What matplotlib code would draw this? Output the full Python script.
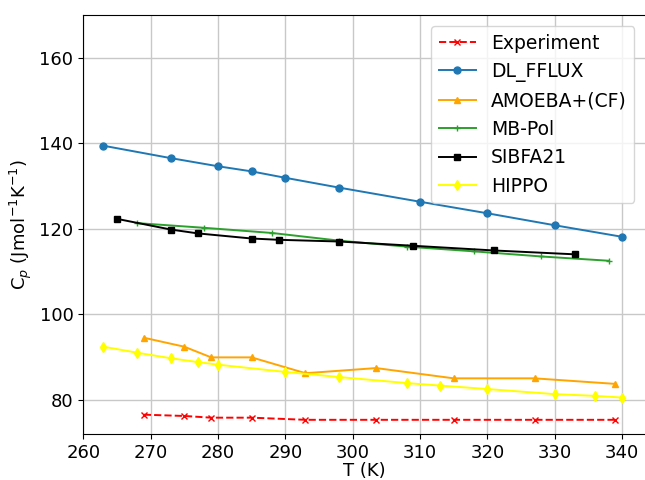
import matplotlib
matplotlib.use("Agg")
import matplotlib.pyplot as plt

T_exp = [269, 275, 279, 285, 293, 303.5, 315, 327, 339]
cp_exp = [76.5, 76.2, 75.8, 75.8, 75.3, 75.3, 75.3, 75.3, 75.3]

T_dl = [263, 273, 280, 285, 290, 298, 310, 320, 330, 340]
cp_dl = [139.4, 136.5, 134.6, 133.4, 131.9, 129.6, 126.3, 123.6, 120.8, 118.1]

T_am = [269, 275, 279, 285, 293, 303.5, 315, 327, 339]
cp_am = [94.5, 92.4, 89.9, 89.9, 86.2, 87.4, 85.0, 85.0, 83.7]

T_mb = [268, 278, 288, 298, 308, 318, 328, 338]
cp_mb = [121.3, 120.2, 119.0, 117.2, 115.8, 114.7, 113.5, 112.5]

T_sb = [265, 273, 277, 285, 289, 298, 309, 321, 333]
cp_sb = [122.3, 119.8, 118.9, 117.7, 117.4, 117.0, 116.0, 114.9, 114.0]

T_hp = [263, 268, 273, 277, 280, 290, 298, 308, 313, 320, 330, 336, 340]
cp_hp = [92.4, 91.0, 89.7, 88.8, 88.2, 86.5, 85.3, 83.9, 83.3, 82.5, 81.3, 80.9, 80.5]

plt.rcParams['font.size'] = 13
fig = plt.figure(figsize=(6.45, 4.8), dpi=100)
ax = fig.add_axes([0.129, 0.096, 0.872, 0.873])

ax.plot(T_exp, cp_exp, '--x', color='red', ms=5, lw=1.4, label='Experiment')
ax.plot(T_dl, cp_dl, '-o', color='tab:blue', ms=5, lw=1.4, label='DL_FFLUX')
ax.plot(T_am, cp_am, '-^', color='orange', ms=5, lw=1.4, label='AMOEBA+(CF)')
ax.plot(T_mb, cp_mb, '-+', color='tab:green', ms=5, lw=1.4, label='MB-Pol')
ax.plot(T_sb, cp_sb, '-s', color='black', ms=5, lw=1.4, label='SIBFA21')
ax.plot(T_hp, cp_hp, '-d', color='yellow', ms=5, lw=1.4, label='HIPPO')

ax.set_xlim(260, 343.5)
ax.set_ylim(72, 170)
ax.set_xticks(range(260, 341, 10))
ax.set_yticks([80, 100, 120, 140, 160])
ax.grid(True, color='#c8c8c8', lw=1)
ax.set_axisbelow(True)
ax.set_xlabel('T (K)', labelpad=0)
ax.set_ylabel(r'C$_p$ (Jmol$^{-1}$K$^{-1}$)')
ax.legend(loc='upper right', fontsize=13.5, borderaxespad=0.6)

fig.savefig('out.png', dpi=100)
